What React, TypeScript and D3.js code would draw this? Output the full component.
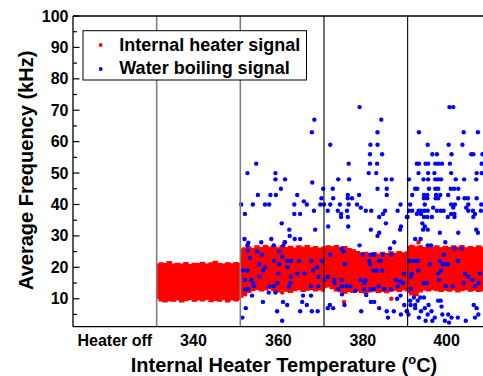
import React from "react";
import * as d3 from "d3";

// ---- data ----
const tickLabels = ["Heater off", "340", "360", "380", "400"];
const tickPositions = [320, 338.8, 359.1, 379.3, 399.3];
const dividers = [330, 350, 370, 390];
const yMajorTicks = [10, 20, 30, 40, 50, 60, 70, 80, 90, 100];
const yMinorTicks = [5, 15, 25, 35, 45, 55, 65, 75, 85, 95];

// red band edges: [temperature, low kHz, high kHz]
const band340 = [
  [330.2, 10.0, 21.0], [331, 9.3, 21.4], [332, 9.0, 21.2], [333, 9.4, 21.8], [334, 9.2, 21.0],
  [335, 9.6, 21.3], [336, 9.0, 21.0], [337, 9.4, 21.5], [338, 9.8, 20.9], [339, 9.2, 21.3],
  [340, 9.6, 21.2], [341, 9.3, 21.6], [342, 9.8, 21.0], [343, 9.1, 21.4], [344, 9.5, 21.9],
  [345, 9.2, 21.2], [346, 9.7, 21.0], [347, 9.0, 21.4], [348, 9.6, 21.1], [349, 9.3, 21.5], [350, 9.8, 21.2],
];
const band360 = [
  [350.2, 10.5, 25.8], [351, 11.0, 26.2], [352, 12.0, 26.5], [353, 12.6, 26.0], [354, 13.0, 26.8],
  [355, 12.5, 26.3], [356, 12.8, 27.0], [357, 13.2, 26.4], [358, 12.6, 26.8], [359, 12.2, 26.2],
  [360, 12.8, 26.9], [361, 12.4, 26.3], [362, 12.0, 26.7], [363, 12.6, 26.1], [364, 12.9, 26.8],
  [365, 12.3, 26.4], [366, 12.7, 26.9], [367, 13.0, 26.2], [368, 12.5, 26.6], [369, 12.8, 26.1], [370, 12.4, 26.4],
];
const band380 = [
  [370, 13.5, 26.4], [371, 13.8, 26.8], [372, 13.2, 26.5], [373, 12.5, 26.9], [374, 12.2, 26.2],
  [375, 11.8, 26.6], [376, 12.3, 26.0], [377, 12.0, 25.6], [378, 12.4, 25.0], [379, 12.0, 24.6],
  [380, 11.7, 24.8], [381, 12.2, 24.3], [382, 12.5, 24.7], [383, 12.0, 24.2], [384, 12.3, 24.8],
  [385, 11.9, 24.4], [386, 12.4, 24.9], [387, 12.7, 24.5], [388, 12.3, 25.0], [389, 12.8, 24.6], [390, 12.5, 24.9],
];
const band400 = [
  [390, 12.0, 26.6], [391, 11.2, 27.0], [392, 11.0, 26.5], [393, 12.2, 26.8], [394, 12.8, 26.3],
  [395, 12.5, 26.9], [396, 12.9, 26.4], [397, 12.6, 26.8], [398, 12.3, 26.2], [399, 12.7, 26.7],
  [400, 12.4, 26.3], [401, 12.8, 26.8], [402, 12.2, 26.4], [403, 12.6, 26.9], [404, 12.9, 26.2],
  [405, 12.4, 26.6], [406, 12.7, 26.3], [407, 12.3, 26.8], [408, 12.6, 26.4], [409, 12.5, 26.6], [410, 12.4, 26.5],
];

const redOutliers = [[360.7, 28], [360.0, 12], [374.8, 9], [386.1, 10], [392.6, 28]];

const blue360 = [
  [367.7, 67], [367.1, 63], [353.8, 53], [351.7, 50], [358.4, 50], [358.4, 48], [360.7, 48], [367.2, 47], [359.7, 45], [369.8, 45],
  [354.2, 43], [357.2, 43], [358.5, 43], [363.6, 43], [369.4, 42], [365.2, 41], [350.2, 40], [353.0, 40], [355.9, 40], [356.9, 40],
  [362.9, 40], [365.9, 40], [369.1, 40], [370.0, 40], [367.6, 38], [351.1, 37], [362.9, 37], [364.3, 37],
  [359.9, 34], [361.7, 32], [361.8, 30], [363.0, 29], [364.3, 29], [367.9, 32], [351.0, 29], [351.9, 27.8], [351.7, 27], [355.0, 28],
  [357.4, 29], [358.0, 27], [360.3, 27], [360.6, 28], [354.0, 25], [351.8, 25.3], [359.3, 25], [355.2, 24], [360.0, 23.4], [352.3, 23],
  [358.1, 22], [361.2, 22], [362.1, 22], [364.0, 22], [367.0, 22], [369.5, 22], [354.5, 21], [355.9, 20], [359.3, 21], [361.3, 20],
  [368.4, 20], [350.6, 19], [351.7, 19], [355.5, 19], [359.1, 18], [363.6, 18], [365.3, 18], [367.4, 19], [354.6, 17], [362.1, 17],
  [368.7, 17], [352.6, 16], [351.1, 16], [353.0, 15], [358.9, 15], [362.0, 15], [353.3, 14], [356.9, 14], [358.0, 14], [361.6, 13.8],
  [366.9, 14], [368.6, 14], [351.9, 13], [356.8, 12], [358.4, 12], [351.1, 13], [352.8, 11], [365.0, 11], [366.9, 11], [355.4, 9],
  [360.2, 9], [361.2, 8], [364.8, 9], [365.9, 8], [351.3, 7], [358.8, 6], [364.3, 6], [367.1, 6], [368.5, 6], [350.5, 4], [360.0, 3],
];

const blue380 = [
  [378.5, 71], [383.7, 67], [382.8, 63], [371.5, 59], [381.1, 59], [382.8, 59], [381.0, 56], [383.9, 56], [375.9, 53], [381.0, 53],
  [382.7, 53], [380.7, 50], [382.5, 50], [373.4, 48], [376.0, 48], [384.8, 48], [386.2, 48], [372.1, 45], [382.8, 45], [385.0, 45],
  [375.7, 43], [378.4, 43], [385.0, 43], [372.2, 42], [375.7, 42], [376.7, 42], [371.5, 40], [373.8, 40], [375.9, 40], [377.9, 40],
  [388.3, 40], [370.9, 38], [373.3, 38], [375.5, 38], [378.8, 39], [380.0, 38], [381.3, 38], [384.6, 38], [387.6, 38], [384.1, 37],
  [374.1, 37], [375.7, 36], [374.1, 36], [383.2, 36], [389.8, 36],
  [371.0, 33], [375.8, 33], [381.2, 32], [383.2, 31], [382.8, 30], [384.8, 34], [388.4, 33], [388.2, 32], [386.8, 28], [378.5, 27],
  [374.3, 26], [371.5, 24], [374.7, 25], [379.3, 24], [381.1, 24], [382.0, 24], [384.1, 24], [385.8, 26], [386.1, 24], [380.8, 22],
  [381.0, 21], [383.2, 22], [383.6, 22], [375.0, 21], [381.8, 19], [382.6, 19], [383.9, 19], [389.1, 18], [370.1, 16], [371.0, 17],
  [372.5, 16], [372.5, 15], [374.2, 16], [378.7, 16], [379.7, 15], [379.9, 16], [387.2, 16], [388.9, 15], [388.2, 15.5], [373.4, 13],
  [374.3, 14], [375.4, 14], [376.3, 14], [377.5, 12.5], [379.6, 13], [381.1, 13], [382.0, 13], [383.1, 14], [384.4, 13], [386.0, 13],
  [387.6, 14], [374.3, 11.4], [380.1, 11.2], [388.3, 11], [387.5, 10], [371.4, 8], [372.2, 7], [370.9, 7], [374.9, 8], [381.2, 9],
  [382.0, 9], [378.9, 6], [383.2, 7], [385.0, 6], [386.7, 6], [388.4, 5], [389.2, 8], [389.8, 6], [385.3, 4],
];

const blue400 = [
  [400.0, 71], [400.9, 71], [392.7, 63], [403.4, 63], [406.8, 63], [394.8, 59], [399.8, 59], [403.1, 59], [395.9, 56], [397.0, 56],
  [400.5, 56], [405.2, 56], [405.7, 56], [407.9, 56], [392.2, 53], [392.7, 53], [394.3, 53], [394.9, 53], [396.6, 53], [397.3, 53],
  [398.2, 53], [400.1, 53], [407.7, 53], [392.6, 50], [394.9, 50], [396.4, 50], [400.4, 50], [406.5, 50], [407.7, 50], [390.3, 48],
  [393.8, 48], [394.9, 48], [396.6, 48], [397.3, 48], [398.0, 48], [401.5, 48], [403.5, 48], [406.4, 48], [391.8, 45], [392.3, 45],
  [395.1, 45], [396.6, 45], [397.3, 45], [400.3, 45], [401.1, 45], [402.1, 45], [391.1, 43], [393.9, 43], [394.7, 43], [396.8, 43],
  [397.8, 43], [399.7, 43], [403.6, 42], [404.4, 42], [406.5, 42], [402.1, 42], [393.9, 42], [394.7, 42], [396.7, 42], [397.3, 42],
  [390.6, 40], [394.1, 40], [396.1, 39], [397.0, 38], [397.9, 38], [400.4, 40], [400.9, 39], [401.3, 40], [404.5, 40], [407.6, 40],
  [390.3, 38], [391.1, 38], [392.6, 38], [393.2, 38], [394.0, 38], [394.8, 38], [398.6, 38], [400.4, 37], [401.2, 37], [404.0, 39],
  [404.5, 38], [405.6, 38], [406.1, 37], [407.5, 38], [390.0, 36], [392.2, 37], [393.2, 37], [393.9, 36], [394.7, 36], [395.8, 36],
  [399.6, 36], [401.2, 36], [405.7, 36],
  [393.5, 34], [394.1, 33], [393.7, 32], [394.8, 32], [397.7, 31], [402.1, 31], [406.4, 32], [406.8, 31], [391.8, 29], [393.1, 29],
  [394.8, 27], [395.6, 27], [399.0, 28], [401.2, 26], [402.9, 26], [398.7, 24], [390.5, 22], [391.5, 22], [392.4, 22], [397.7, 22],
  [398.4, 21], [398.9, 21], [399.6, 21], [402.0, 22], [395.3, 21], [392.6, 19], [391.0, 18], [398.0, 19], [397.3, 18], [403.7, 18],
  [404.5, 17], [407.3, 18], [390.8, 17], [393.9, 15], [394.6, 15], [397.5, 16], [399.1, 14], [400.8, 14], [403.4, 15], [405.5, 16],
  [406.1, 14], [407.0, 15], [390.8, 13], [391.5, 10.4], [393.0, 10.4], [393.9, 10.4], [390.6, 9.4], [392.4, 9.4], [397.3, 9.4], [397.9, 9.4],
  [390.7, 8], [391.8, 8], [395.0, 8], [398.1, 7.5], [405.8, 8], [406.5, 7], [391.8, 7], [393.2, 6], [394.1, 7], [394.8, 5],
  [395.7, 6], [398.3, 5], [399.7, 5], [400.5, 4], [402.0, 4], [406.1, 4], [406.9, 5], [403.9, 3], [392.7, 4], [394.3, 3],
  [395.9, 3], [396.5, 4], [389.8, 6], [390.2, 5], [398.9, 3], [399.9, 2.4],
];

const legendItems = [
  { label: "Internal heater signal", color: "#ff0000" },
  { label: "Water boiling signal", color: "#0000ff" },
];

// ---- layout ----
const W = 483;
const H = 376;
const left = 73;
const right = 491.3;
const top = 16;
const bottom = 326.7;
const FONT = "'Liberation Sans', Arial, Helvetica, sans-serif";

export default function App() {
  const x = d3.scaleLinear().domain([310, 410]).range([left, right]);
  const y = d3.scaleLinear().domain([1.1, 100]).range([bottom, top]);
  const area = d3
    .area<number[]>()
    .x((d) => x(d[0]))
    .y0((d) => y(d[1]))
    .y1((d) => y(d[2]))
    .curve(d3.curveStep);
  const bands = [band340, band360, band380, band400];
  const blues = [...blue360, ...blue380, ...blue400];

  return (
    <div style={{ position: "fixed", left: 0, top: 0, width: W, height: H, background: "#fff" }}>
      <svg width={W} height={H} style={{ display: "block" }} fontFamily={FONT}>
        <defs>
          <clipPath id="plotclip">
            <rect x={left} y={top} width={right - left} height={bottom - top} />
          </clipPath>
        </defs>
        <g clipPath="url(#plotclip)">
          {bands.map((b, i) => (
            <path key={i} d={area(b) || ""} fill="#ff0000" stroke="#ff0000" strokeWidth={1.2} />
          ))}
          {redOutliers.map((d, i) => (
            <circle key={"r" + i} cx={x(d[0])} cy={y(d[1])} r={2.2} fill="#ff0000" />
          ))}
          {blues.map((d, i) => (
            <circle key={"b" + i} cx={x(d[0])} cy={y(d[1])} r={2.2} fill="#0000ff" />
          ))}
        </g>
        {dividers.map((t, i) => (
          <line
            key={"v" + i}
            x1={x(t)}
            x2={x(t)}
            y1={top}
            y2={bottom}
            stroke={i < 2 ? "#7f7f7f" : "#000"}
            strokeWidth={i < 2 ? 1.6 : 1.1}
          />
        ))}
        {/* frame */}
        <line x1={left} x2={W} y1={top} y2={top} stroke="#000" strokeWidth={1.3} />
        <line x1={left} x2={W} y1={bottom} y2={bottom} stroke="#000" strokeWidth={1.3} />
        <line x1={left} x2={left} y1={top} y2={bottom} stroke="#000" strokeWidth={1.3} />
        {yMajorTicks.map((t) => (
          <g key={"ym" + t}>
            <line x1={left} x2={left + 6.5} y1={y(t)} y2={y(t)} stroke="#000" strokeWidth={1.2} />
            <text x={68.5} y={y(t) + 5.5} textAnchor="end" fontSize={16} fontWeight="bold">
              {t}
            </text>
          </g>
        ))}
        {yMinorTicks.map((t) => (
          <line key={"yn" + t} x1={left} x2={left + 4} y1={y(t)} y2={y(t)} stroke="#000" strokeWidth={1.2} />
        ))}
        {tickLabels.map((l, i) => (
          <text key={"xl" + i} x={x(tickPositions[i])} y={345.7} textAnchor="middle" fontSize={16} fontWeight="bold">
            {l}
          </text>
        ))}
        {/* axis titles */}
        <text x={284} y={371.5} textAnchor="middle" fontSize={20} fontWeight="bold">
          Internal Heater Temperature (
          <tspan fontSize={13} dy={-8}>o</tspan>
          <tspan dy={8}>C)</tspan>
        </text>
        <text
          transform={`translate(33,${(top + bottom) / 2 - 1}) rotate(-90)`}
          textAnchor="middle"
          fontSize={20}
          fontWeight="bold"
        >
          Average Frequency (kHz)
        </text>
        {/* legend */}
        <rect x={83} y={30.7} width={223.5} height={49.3} fill="#fff" stroke="#000" strokeWidth={1} />
        {legendItems.map((it, i) => (
          <g key={"lg" + i}>
            <circle cx={100.7} cy={45 + i * 24} r={1.9} fill={it.color} />
            <text x={119.3} y={50.7 + i * 23.5} fontSize={18} fontWeight="bold">
              {it.label}
            </text>
          </g>
        ))}
      </svg>
    </div>
  );
}
